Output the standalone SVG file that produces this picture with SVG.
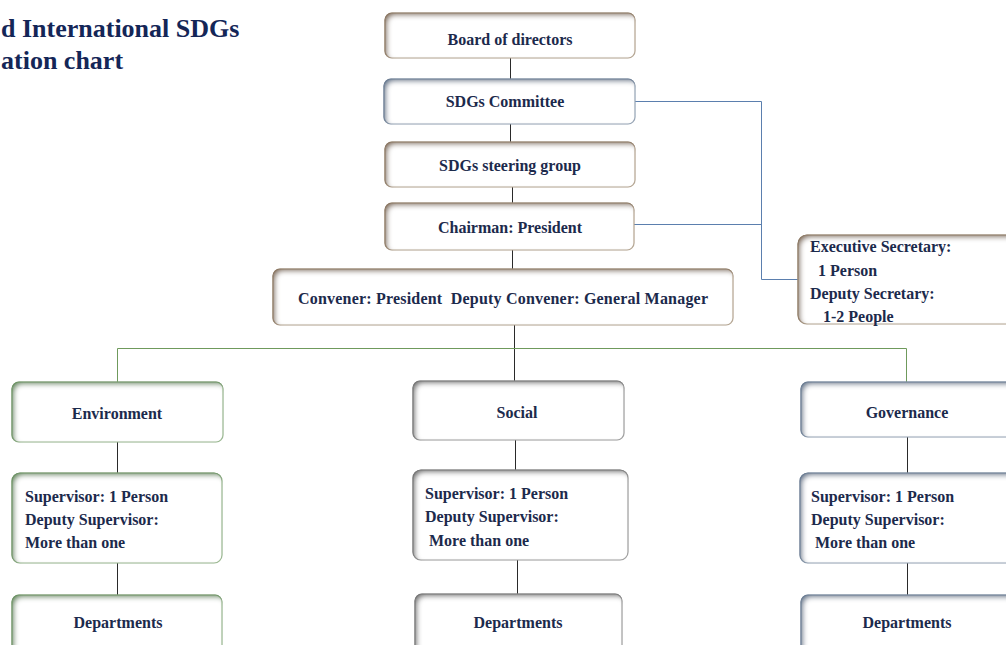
<svg xmlns="http://www.w3.org/2000/svg" width="1006" height="645" viewBox="0 0 1006 645">
  <defs>
    <!-- soft inner bevel used on all boxes, one tint per branch -->
    <filter id="in-tan" x="-5%" y="-10%" width="110%" height="120%">
      <feGaussianBlur in="SourceAlpha" stdDeviation="2.4" result="b"/>
      <feOffset in="b" dx="2.5" dy="2.5" result="o"/>
      <feComposite in="SourceAlpha" in2="o" operator="out" result="edge"/>
      <feFlood flood-color="#86725e"/>
      <feComposite in2="edge" operator="in" result="sh"/>
      <feMerge><feMergeNode in="SourceGraphic"/><feMergeNode in="sh"/></feMerge>
    </filter>
    <filter id="in-blue" x="-5%" y="-10%" width="110%" height="120%">
      <feGaussianBlur in="SourceAlpha" stdDeviation="2.4" result="b"/>
      <feOffset in="b" dx="2.5" dy="2.5" result="o"/>
      <feComposite in="SourceAlpha" in2="o" operator="out" result="edge"/>
      <feFlood flood-color="#66788f"/>
      <feComposite in2="edge" operator="in" result="sh"/>
      <feMerge><feMergeNode in="SourceGraphic"/><feMergeNode in="sh"/></feMerge>
    </filter>
    <filter id="in-green" x="-5%" y="-10%" width="110%" height="120%">
      <feGaussianBlur in="SourceAlpha" stdDeviation="2.4" result="b"/>
      <feOffset in="b" dx="2.5" dy="2.5" result="o"/>
      <feComposite in="SourceAlpha" in2="o" operator="out" result="edge"/>
      <feFlood flood-color="#688e60"/>
      <feComposite in2="edge" operator="in" result="sh"/>
      <feMerge><feMergeNode in="SourceGraphic"/><feMergeNode in="sh"/></feMerge>
    </filter>
    <filter id="in-gray" x="-5%" y="-10%" width="110%" height="120%">
      <feGaussianBlur in="SourceAlpha" stdDeviation="2.4" result="b"/>
      <feOffset in="b" dx="2.5" dy="2.5" result="o"/>
      <feComposite in="SourceAlpha" in2="o" operator="out" result="edge"/>
      <feFlood flood-color="#737373"/>
      <feComposite in2="edge" operator="in" result="sh"/>
      <feMerge><feMergeNode in="SourceGraphic"/><feMergeNode in="sh"/></feMerge>
    </filter>
  </defs>
  <style>
    .box { fill: #ffffff; stroke-width: 1.2; }
    .tan { stroke: #b8a996; filter: url(#in-tan); }
    .blue { stroke: #9aa8b8; filter: url(#in-blue); }
    .green { stroke: #9dba94; filter: url(#in-green); }
    .gray { stroke: #a2a2a2; filter: url(#in-gray); }
    .lbl { font-family: "Liberation Serif", "Times New Roman", serif; font-weight: bold; font-size: 16px; fill: #1c2a4c; }
    .mid { text-anchor: middle; }
    .title { font-family: "Liberation Serif", "Times New Roman", serif; font-weight: bold; font-size: 26px; fill: #142657; }
    .dark { stroke: #2a2a2a; stroke-width: 1; fill: none; }
    .bus { stroke: #6f9a5c; stroke-width: 1; fill: none; }
    .side { stroke: #5b7fae; stroke-width: 1; fill: none; }
  </style>

  <rect width="1006" height="645" fill="#ffffff"/>

  <!-- heading -->
  <g id="title">
    <text class="title" x="1" y="37">d International SDGs</text>
    <text class="title" x="1" y="69">ation chart</text>
  </g>

  <!-- connectors -->
  <g id="connectors">
    <path class="dark" d="M510.5,58 V79"/>
    <path class="dark" d="M510.5,124 V142"/>
    <path class="dark" d="M512.5,187 V203"/>
    <path class="dark" d="M512.5,250 V269"/>
    <path class="dark" d="M514.5,325 V381"/>
    <path class="bus" d="M117.5,382 V348.5 H906.5 V382"/>
    <path class="dark" d="M117.5,442 V473"/>
    <path class="dark" d="M117.5,563 V595"/>
    <path class="dark" d="M515.5,440 V470"/>
    <path class="dark" d="M517.5,560 V594"/>
    <path class="dark" d="M907.5,437 V473"/>
    <path class="dark" d="M907.5,563 V595"/>
    <path class="side" d="M635,101.5 H761.5 V279.5 H798"/>
    <path class="side" d="M634,224.5 H761.5"/>
  </g>

  <!-- board and committee chain -->
  <g id="board">
    <rect class="box tan" x="385" y="13" width="250" height="45" rx="7"/>
    <text class="lbl mid" x="510" y="45">Board of directors</text>
  </g>
  <g id="committee">
    <rect class="box blue" x="384" y="79" width="251" height="45" rx="7"/>
    <text class="lbl mid" x="505" y="107">SDGs Committee</text>
  </g>
  <g id="steering">
    <rect class="box tan" x="385" y="142" width="250" height="45" rx="7"/>
    <text class="lbl mid" x="510" y="171">SDGs steering group</text>
  </g>
  <g id="chairman">
    <rect class="box tan" x="385" y="203" width="249" height="47" rx="7"/>
    <text class="lbl mid" x="510" y="233">Chairman: President</text>
  </g>
  <g id="convener">
    <rect class="box tan" x="273" y="269" width="460" height="56" rx="7"/>
    <text class="lbl mid" x="503" y="304" textLength="410" lengthAdjust="spacing" xml:space="preserve">Convener: President  Deputy Convener: General Manager</text>
  </g>
  <g id="secretary">
    <rect class="box tan" x="798" y="235" width="220" height="89" rx="9"/>
    <text class="lbl" x="810" y="252">Executive Secretary:</text>
    <text class="lbl" x="818" y="276">1 Person</text>
    <text class="lbl" x="810" y="299">Deputy Secretary:</text>
    <text class="lbl" x="823" y="322">1-2 People</text>
  </g>

  <!-- environment branch -->
  <g id="environment">
    <rect class="box green" x="12" y="382" width="211" height="60" rx="7"/>
    <text class="lbl mid" x="117" y="419">Environment</text>
  </g>
  <g id="env-supervisor">
    <rect class="box green" x="12" y="473" width="210" height="90" rx="8"/>
    <text class="lbl" x="25" y="502">Supervisor: 1 Person</text>
    <text class="lbl" x="25" y="525">Deputy Supervisor:</text>
    <text class="lbl" x="25" y="548">More than one</text>
  </g>
  <g id="env-departments">
    <rect class="box green" x="12" y="595" width="210" height="60" rx="7"/>
    <text class="lbl mid" x="118" y="628">Departments</text>
  </g>

  <!-- social branch -->
  <g id="social">
    <rect class="box gray" x="413" y="381" width="211" height="59" rx="7"/>
    <text class="lbl mid" x="517" y="418">Social</text>
  </g>
  <g id="social-supervisor">
    <rect class="box gray" x="413" y="470" width="215" height="90" rx="8"/>
    <text class="lbl" x="425" y="499">Supervisor: 1 Person</text>
    <text class="lbl" x="425" y="522">Deputy Supervisor:</text>
    <text class="lbl" x="429" y="546">More than one</text>
  </g>
  <g id="social-departments">
    <rect class="box gray" x="415" y="594" width="207" height="60" rx="7"/>
    <text class="lbl mid" x="518" y="628">Departments</text>
  </g>

  <!-- governance branch -->
  <g id="governance">
    <rect class="box blue" x="801" y="382" width="212" height="55" rx="7"/>
    <text class="lbl mid" x="907" y="418">Governance</text>
  </g>
  <g id="gov-supervisor">
    <rect class="box blue" x="800" y="473" width="215" height="90" rx="8"/>
    <text class="lbl" x="811" y="502">Supervisor: 1 Person</text>
    <text class="lbl" x="811" y="525">Deputy Supervisor:</text>
    <text class="lbl" x="815" y="548">More than one</text>
  </g>
  <g id="gov-departments">
    <rect class="box blue" x="801" y="595" width="212" height="60" rx="7"/>
    <text class="lbl mid" x="907" y="628">Departments</text>
  </g>
</svg>
